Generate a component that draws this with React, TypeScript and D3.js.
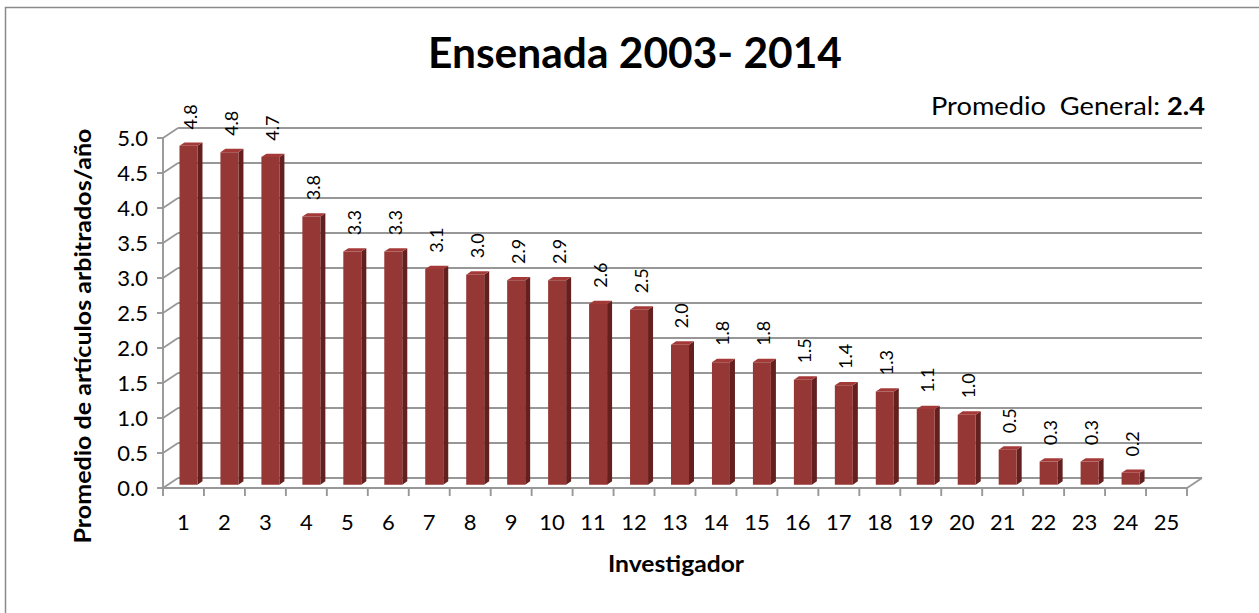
import React from "react";
import * as d3 from "d3";

const categories = ["1","2","3","4","5","6","7","8","9","10","11","12","13","14","15","16","17","18","19","20","21","22","23","24","25"];
const values: (number | null)[] = [4.84, 4.75, 4.68, 3.83, 3.33, 3.33, 3.08, 3.0, 2.92, 2.92, 2.58, 2.5, 2.0, 1.75, 1.75, 1.5, 1.42, 1.33, 1.08, 1.0, 0.5, 0.33, 0.33, 0.17, null];
const yTicks = [0, 0.5, 1, 1.5, 2, 2.5, 3, 3.5, 4, 4.5, 5];
const titleText = "Ensenada 2003- 2014";
const avgLabel = "Promedio  General: ";
const avgValue = "2.4";
const yTitle = "Promedio de artículos arbitrados/año";
const xTitle = "Investigador";

const W = 1259, H = 613;
const FONT = "Lato, 'Open Sans', sans-serif";

export default function App() {
  const left = 163, right = 1187, floorY = 488, topY = 138;
  const DX = 15, DY = -10; // full depth offset
  const f0 = 1 / 3, f1 = 2 / 3; // bar depth range
  const x = d3.scaleBand<string>().domain(categories).range([left, right]).padding(0);
  const y = d3.scaleLinear().domain([0, 5]).range([floorY, topY]);
  const fmt = d3.format(".1f");
  const bw = 18;
  const grid = "#979797";
  const sw = 1.9;

  return (
    <svg width={W} height={H} style={{ position: "absolute", left: 0, top: 0, display: "block", background: "#fff" }}>
      <rect x={5.5} y={7.5} width={1270} height={620} fill="#fff" stroke="#8a8a8a" strokeWidth={1.5} />
      <text x={635} y={68} textAnchor="middle" fontFamily={FONT} fontWeight={700} fontSize={42} textLength={414} lengthAdjust="spacingAndGlyphs" fill="#000">{titleText}</text>
      <text x={1205} y={115} textAnchor="end" fontFamily={FONT} fontSize={25} textLength={274} lengthAdjust="spacingAndGlyphs" fill="#000" style={{ whiteSpace: "pre" }}>
        {avgLabel}<tspan fontWeight={700}>{avgValue}</tspan>
      </text>

      {/* gridlines and left wall diagonals */}
      {yTicks.map((t) => {
        const yf = y(t);
        return (
          <g key={t}>
            <line x1={left - 6} x2={left} y1={yf} y2={yf} stroke={grid} strokeWidth={sw} />
            <line x1={left} y1={yf} x2={left + DX} y2={yf + DY} stroke={grid} strokeWidth={sw} />
            <line x1={left + DX} x2={right + DX} y1={yf + DY} y2={yf + DY} stroke={grid} strokeWidth={sw} />
            <text x={148} y={yf} dy="0.36em" textAnchor="end" fontFamily={FONT} fontSize={22} fill="#000">{fmt(t)}</text>
          </g>
        );
      })}
      <line x1={left} x2={left} y1={floorY} y2={topY} stroke={grid} strokeWidth={sw} />
      <line x1={left} x2={right} y1={floorY} y2={floorY} stroke={grid} strokeWidth={sw} />
      <line x1={right} y1={floorY} x2={right + DX} y2={floorY + DY} stroke={grid} strokeWidth={sw} />
      {categories.map((c) => (
        <line key={"t" + c} x1={x(c)!} x2={x(c)!} y1={floorY} y2={floorY + 8} stroke={grid} strokeWidth={sw} />
      ))}
      <line x1={right} x2={right} y1={floorY} y2={floorY + 8} stroke={grid} strokeWidth={sw} />
      {categories.map((c) => (
        <text key={"l" + c} x={x(c)! + x.bandwidth() / 2} y={530} textAnchor="middle" fontFamily={FONT} fontSize={22} fill="#000">{c}</text>
      ))}

      {/* bars */}
      {categories.map((c, i) => {
        const v = values[i];
        if (v == null) return null;
        const cx = x(c)! + x.bandwidth() / 2 + DX * f0;
        const x0 = cx - bw / 2, x1 = cx + bw / 2;
        const yb = y(0) + DY * f0;
        const yt = y(v) + DY * f0;
        const ddx = DX * (f1 - f0), ddy = DY * (f1 - f0);
        const front = `M${x0},${yb}L${x1},${yb}L${x1},${yt}L${x0},${yt}Z`;
        const side = `M${x1},${yb}L${x1 + ddx},${yb + ddy}L${x1 + ddx},${yt + ddy}L${x1},${yt}Z`;
        const top = `M${x0},${yt}L${x1},${yt}L${x1 + ddx},${yt + ddy}L${x0 + ddx},${yt + ddy}Z`;
        const ly = yt + ddy - 13;
        return (
          <g key={"b" + c}>
            <path d={side} fill="#64201f" />
            <path d={top} fill="#a33a38" />
            <path d={front} fill="#953735" />
            <text transform={`translate(${cx + 2},${ly}) rotate(-90)`} dy="0.36em" textAnchor="start" fontFamily={FONT} fontSize={18} fill="#000">{fmt(v)}</text>
          </g>
        );
      })}

      <text transform={`translate(91,336) rotate(-90)`} textAnchor="middle" fontFamily={FONT} fontWeight={700} fontSize={23} textLength={415} lengthAdjust="spacingAndGlyphs" fill="#000">{yTitle}</text>
      <text x={676} y={572} textAnchor="middle" fontFamily={FONT} fontWeight={700} fontSize={23} textLength={136} lengthAdjust="spacingAndGlyphs" fill="#000">{xTitle}</text>
    </svg>
  );
}
